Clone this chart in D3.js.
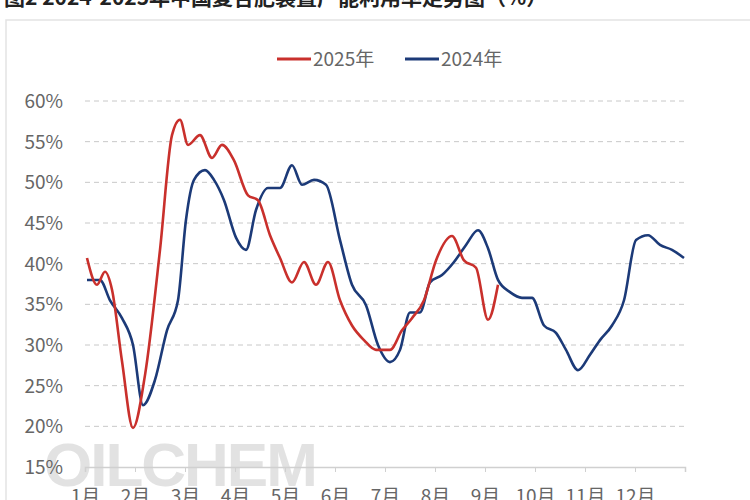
<!DOCTYPE html>
<html><head><meta charset="utf-8">
<script src="https://cdn.jsdelivr.net/npm/d3@7"></script>
<style>body{margin:0;background:#fff}svg{font-family:"Noto Sans CJK SC","Noto Sans",sans-serif}</style>
</head><body><svg id="chart"></svg>
<script>
// months along the axis, time in month units (0 = start of Jan)
const months = ["1月","2月","3月","4月","5月","6月","7月","8月","9月","10月","11月","12月"]
const yTicks = [15, 20, 25, 30, 35, 40, 45, 50, 55, 60]

const t2025 = [0.04,0.24,0.4,0.54,0.74,0.96,1.2,1.5,1.74,1.9,2.06,2.3,2.54,2.74,2.98,3.26,3.46,3.7,3.9,4.14,4.38,4.62,4.86,5.1,5.34,5.58,5.82,6.1,6.34,6.54,6.78,7.02,7.34,7.58,7.82,8.06,8.26]
const v2025 = [40.7,37.4,39,36.8,28,19.8,26.3,41.7,55.8,57.7,54.6,55.8,53,54.6,52.7,48.4,47.8,43.5,40.7,37.7,40.2,37.4,40.2,35.5,32.4,30.6,29.4,29.4,31.8,33.3,35.5,40.4,43.4,40.4,39.5,33.1,37.4]

const t2024 = [0.04,0.3,0.5,0.74,0.96,1.16,1.4,1.64,1.86,2.02,2.18,2.4,2.58,2.78,3.02,3.22,3.42,3.66,3.9,4.14,4.34,4.58,4.82,5.1,5.34,5.62,5.86,6.1,6.3,6.5,6.7,6.9,7.14,7.38,7.62,7.86,8.06,8.26,8.5,8.74,8.94,9.18,9.42,9.62,9.86,10.1,10.3,10.54,10.78,11.02,11.26,11.5,11.74,11.98]
const v2024 = [38,38,35.5,33.3,30,22.6,25.7,31.8,35.5,45.4,50.3,51.5,50.3,47.8,43.2,41.7,46.6,49.3,49.3,52.1,49.7,50.3,49.7,42.9,37.4,34.9,30,27.9,29.4,34,34,37.7,38.6,40.2,42.3,44.1,41.9,38,36.5,35.8,35.8,32.4,31.5,29.4,26.9,28.8,30.6,32.4,35.5,42.9,43.5,42.3,41.7,40.7]

const svg = d3.select("#chart").attr("width", 750).attr("height", 500)

// title (cropped at top in the source)
svg.append("text").text("图2  2024-2025年中国复合肥装置产能利用率走势图（%）")
  .attr("x", 4).attr("y", 5).attr("font-size", 21).attr("font-weight", 700).attr("fill", "#222")

// frame
svg.append("rect").attr("x", 6).attr("y", 20).attr("width", 760).attr("height", 500)
  .attr("fill", "none").attr("stroke", "#e3e3e3").attr("stroke-width", 1.5)

const x = d3.scaleLinear().domain([0, 12]).range([85, 685])
const y = d3.scaleLinear().domain([15, 60]).range([467, 101])

// watermark
svg.append("text").text("OILCHEM").attr("x", 44).attr("y", 486)
  .attr("font-size", 62).attr("font-family", "Liberation Sans, Arial").attr("fill", "#e2e2e2")
  .attr("letter-spacing", -2).attr("font-weight", 700)

// grid
svg.append("g").selectAll("line").data(yTicks.slice(1)).join("line")
  .attr("x1", 85).attr("x2", 685).attr("y1", d => y(d)).attr("y2", d => y(d))
  .attr("stroke", "#c8c8c8").attr("stroke-dasharray", "5,4")

svg.append("g").selectAll("text").data(yTicks).join("text")
  .text(d => d + "%").attr("x", 63).attr("y", d => y(d) + 7)
  .attr("text-anchor", "end").attr("font-size", 19).attr("fill", "#666")

// x axis
const xAxis = d3.axisBottom(x).tickValues(d3.range(0, 12)).tickSize(5).tickFormat(i => months[i])
const gx = svg.append("g").attr("transform", "translate(0,467)").call(xAxis)
gx.select(".domain").attr("stroke", "#d0d0d0").attr("stroke-width", 1.5)
gx.selectAll(".tick line").attr("stroke", "#d0d0d0")
gx.selectAll(".tick text").attr("font-size", 19).attr("fill", "#666").attr("dy", "1.45em")
  .attr("font-family", "Noto Sans CJK SC")

const line = d3.line().x(d => x(d[0])).y(d => y(d[1])).curve(d3.curveMonotoneX)

svg.append("path").datum(d3.zip(t2024, v2024)).attr("d", line)
  .attr("fill", "none").attr("stroke", "#1c3a78").attr("stroke-width", 2.6)
svg.append("path").datum(d3.zip(t2025, v2025)).attr("d", line)
  .attr("fill", "none").attr("stroke", "#c9302c").attr("stroke-width", 2.6)

// legend
const legend = [["2025年", "#c9302c", 277], ["2024年", "#1c3a78", 405]]
const lg = svg.append("g").selectAll("g").data(legend).join("g")
lg.append("line").attr("x1", d => d[2]).attr("x2", d => d[2] + 34).attr("y1", 59).attr("y2", 59)
  .attr("stroke", d => d[1]).attr("stroke-width", 3)
lg.append("text").text(d => d[0]).attr("x", d => d[2] + 36).attr("y", 66)
  .attr("font-size", 19).attr("fill", "#666")
</script></body></html>
